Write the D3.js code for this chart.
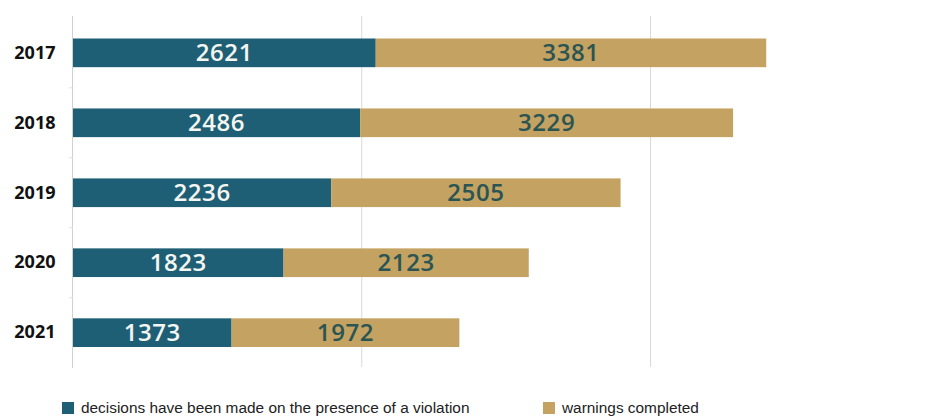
<!DOCTYPE html>
<html>
<head>
<meta charset="utf-8">
<script src="https://cdn.jsdelivr.net/npm/d3@7"></script>
<style>
  html, body { margin: 0; padding: 0; background: #ffffff; }
  svg { display: block; }
</style>
</head>
<body>
<svg id="chart" width="925" height="416"></svg>
<script>
// Yearly counts, stacked horizontally
const years = ["2017", "2018", "2019", "2020", "2021"];
const decisions = [2621, 2486, 2236, 1823, 1373];
const warnings = [3381, 3229, 2505, 2123, 1972];
const gridTicks = [0, 2500, 5000];
const seriesNames = ["decisions have been made on the presence of a violation", "warnings completed"];
const seriesColors = ["#1f5f75", "#c4a262"];

const svg = d3.select("#chart");

const x = d3.scaleLinear().domain([0, 5000]).range([73, 650.5]);
const y = d3.scaleBand().domain(years).range([17.5, 368]).paddingInner(0.59).paddingOuter(0.3);

// vertical gridlines
svg.append("g")
  .selectAll("line")
  .data(gridTicks.slice(1))
  .join("line")
  .attr("x1", d => x(d)).attr("x2", d => x(d))
  .attr("y1", 16).attr("y2", 367)
  .attr("stroke", "#d9d9d9").attr("stroke-width", 1);

// category axis on the left
const yAxis = svg.append("g")
  .attr("transform", `translate(${x(0) - 0.5},0)`)
  .call(d3.axisLeft(y).tickSize(0).tickPadding(17).tickFormat(d => d));
yAxis.select(".domain").attr("stroke", "#d0d0d0").attr("d", "M0,16V368");
yAxis.selectAll("text")
  .attr("font-family", "'Open Sans', sans-serif")
  .attr("font-weight", 700)
  .attr("font-size", 18)
  .attr("fill", "#111");

// short boundary ticks between categories
const step = y.step();
svg.append("g")
  .selectAll("line")
  .data(years.slice(0, -1))
  .join("line")
  .attr("x1", x(0) - 4).attr("x2", x(0))
  .attr("y1", d => y(d) + y.bandwidth() + (step - y.bandwidth()) / 2)
  .attr("y2", d => y(d) + y.bandwidth() + (step - y.bandwidth()) / 2)
  .attr("stroke", "#e2e2e2");

const rows = years.map((yr, i) => ({ year: yr, a: decisions[i], b: warnings[i] }));

const bars = svg.append("g");
bars.selectAll("rect.dec")
  .data(rows).join("rect").attr("class", "dec")
  .attr("x", x(0)).attr("y", d => y(d.year))
  .attr("width", d => x(d.a) - x(0)).attr("height", y.bandwidth())
  .attr("fill", seriesColors[0]);
bars.selectAll("rect.warn")
  .data(rows).join("rect").attr("class", "warn")
  .attr("x", d => x(d.a)).attr("y", d => y(d.year))
  .attr("width", d => x(d.a + d.b) - x(d.a)).attr("height", y.bandwidth())
  .attr("fill", seriesColors[1]);

// value labels centred in each segment
const labels = svg.append("g")
  .attr("font-family", "'Open Sans', sans-serif")
  .attr("font-weight", 600)
  .attr("font-size", 24)
  .attr("letter-spacing", 0.6)
  .attr("text-anchor", "middle");
labels.selectAll("text.dec")
  .data(rows).join("text").attr("class", "dec")
  .attr("x", d => (x(0) + x(d.a)) / 2)
  .attr("y", d => y(d.year) + y.bandwidth() / 2)
  .attr("dy", "0.36em")
  .attr("fill", "#f4f6f2")
  .text(d => d.a);
labels.selectAll("text.warn")
  .data(rows).join("text").attr("class", "warn")
  .attr("x", d => (x(d.a) + x(d.a + d.b)) / 2)
  .attr("y", d => y(d.year) + y.bandwidth() / 2)
  .attr("dy", "0.36em")
  .attr("fill", "#2a5552")
  .text(d => d.b);

// legend
const legendX = [62, 543];
const legend = svg.append("g");
seriesNames.forEach((name, i) => {
  legend.append("rect")
    .attr("x", legendX[i]).attr("y", 402)
    .attr("width", 12).attr("height", 12)
    .attr("fill", seriesColors[i]);
  legend.append("text")
    .attr("x", legendX[i] + 19).attr("y", 413)
    .attr("font-family", "'Liberation Sans', Arial, sans-serif")
    .attr("font-size", 15.4)
    .attr("fill", "#222")
    .text(name);
});
</script>
</body>
</html>
